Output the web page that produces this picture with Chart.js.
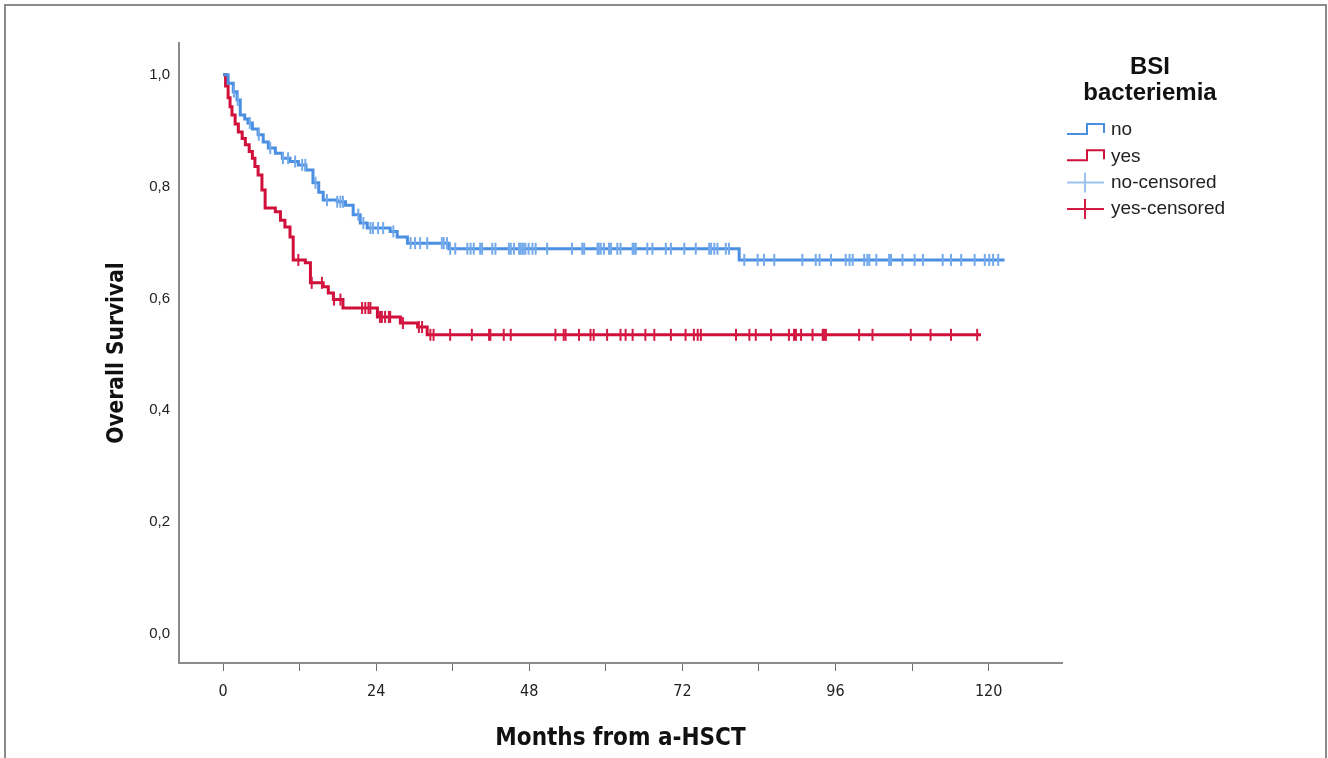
<!DOCTYPE html>
<html>
<head>
<meta charset="utf-8">
<title>Overall Survival by BSI bacteriemia</title>
<script src="https://cdn.jsdelivr.net/npm/chart.js@4"></script>
<style>
  html, body { margin: 0; padding: 0; background: #fff; }
  canvas { display: block; }
</style>
</head>
<body>
<canvas id="kmChart" width="1328" height="758"></canvas>
<script>
// Kaplan-Meier curves: event times (months) and survival after each step
const noTimes = [0, 0.8, 1.6, 2.2, 2.7, 3.4, 3.9, 4.6, 5.5, 6.3, 7.1, 8.2, 9.3, 10.5, 11.8, 13.0, 14.1, 15.0, 15.7, 17.9, 19.2, 20.4, 21.5, 22.6, 26.2, 27.3, 28.9, 35.4, 80.9, 122.5];
const noSurv  = [1.0, 0.985, 0.970, 0.955, 0.928, 0.921, 0.914, 0.903, 0.893, 0.880, 0.869, 0.860, 0.851, 0.845, 0.839, 0.830, 0.807, 0.790, 0.776, 0.773, 0.767, 0.750, 0.735, 0.726, 0.720, 0.710, 0.699, 0.689, 0.669, 0.669];

const yesTimes = [0, 0.4, 0.8, 1.1, 1.4, 1.9, 2.4, 3.0, 3.5, 4.1, 4.6, 5.0, 5.5, 6.1, 6.6, 8.2, 9.0, 9.7, 10.5, 11.0, 12.9, 13.7, 15.7, 16.5, 17.3, 18.8, 24.2, 27.8, 30.5, 32.0, 118.8];
const yesSurv  = [1.0, 0.980, 0.959, 0.943, 0.928, 0.912, 0.898, 0.886, 0.875, 0.863, 0.851, 0.836, 0.821, 0.794, 0.762, 0.755, 0.740, 0.728, 0.710, 0.669, 0.664, 0.628, 0.621, 0.610, 0.598, 0.583, 0.567, 0.556, 0.549, 0.535, 0.535];

// censored observations (months)
const noCensored = [1.7, 2.3, 4.2, 5.6, 7.4, 9.4, 10.2, 11.3, 12.4, 12.9, 14.5, 16.3, 17.9, 18.4, 18.8, 21.2, 22.0, 23.1, 23.5, 24.3, 25.1, 26.7, 29.4, 30.1, 30.9, 32.0, 34.3, 34.6, 35.1, 35.6, 36.4, 38.3, 38.8, 39.3, 40.3, 40.6, 42.2, 42.7, 44.8, 45.1, 45.6, 46.4, 46.6, 46.9, 47.1, 47.4, 47.9, 48.5, 49.0, 50.8, 54.7, 56.3, 56.6, 58.7, 58.9, 59.2, 59.7, 60.5, 60.8, 61.8, 62.3, 64.2, 64.4, 64.7, 66.5, 67.3, 69.4, 70.2, 72.3, 74.1, 76.2, 76.5, 77.0, 77.5, 78.8, 79.3, 81.7, 83.8, 84.8, 86.4, 90.8, 92.9, 93.5, 95.3, 97.6, 98.2, 98.7, 100.5, 101.0, 101.3, 102.4, 104.4, 104.7, 106.5, 108.4, 109.7, 112.8, 114.1, 115.7, 117.8, 119.4, 120.1, 120.7, 121.5];
const yesCensored = [11.8, 13.9, 15.5, 17.4, 18.4, 21.8, 22.3, 22.8, 23.1, 24.6, 24.9, 25.4, 26.0, 26.2, 28.2, 30.7, 31.2, 32.5, 33.0, 35.6, 39.0, 41.7, 41.9, 44.0, 45.1, 52.1, 53.4, 53.7, 55.8, 57.6, 58.1, 60.2, 62.3, 63.1, 64.2, 66.2, 67.6, 70.2, 72.5, 73.8, 74.4, 74.9, 80.4, 82.5, 83.5, 85.9, 88.7, 89.5, 89.8, 90.6, 92.4, 94.0, 94.2, 94.5, 99.7, 101.8, 107.8, 110.9, 114.1, 118.2];

const groupLabels = ['no', 'yes', 'no-censored', 'yes-censored'];
const legendTitle = ['BSI', 'bacteriemia'];
const xTickStep = 12;
const xLabelStep = 24;
const yTickStep = 0.2;

const BLUE = '#4a8fe2';
const BLUE_MARK = '#74aaec';
const RED = '#d0103a';
const RED_MARK = '#d41a44';
const NARROW = '"Liberation Sans Narrow", "Arial Narrow", "DejaVu Sans Condensed", sans-serif';

// survival value of a step curve at time t
function survivalAt(times, surv, t) {
    let s = surv[0];
    for (let i = 0; i < times.length; i++) {
        if (times[i] <= t) s = surv[i];
    }
    return s;
}

function curvePoints(times, surv) {
    return times.map((t, i) => ({ x: t, y: surv[i] }));
}

function censorPoints(cens, times, surv) {
    return cens.map(t => ({ x: t, y: survivalAt(times, surv, t) }));
}

// outer frame + legend block on the right
const frameAndLegend = {
    id: 'frameAndLegend',
    afterDraw(chart) {
        const ctx = chart.ctx;
        ctx.save();
        ctx.strokeStyle = '#8a8a8a';
        ctx.lineWidth = 2;
        ctx.strokeRect(5, 5, 1321, 800);

        ctx.fillStyle = '#111';
        ctx.textAlign = 'center';
        ctx.textBaseline = 'alphabetic';
        ctx.font = 'bold 24px "Liberation Sans", Arial, sans-serif';
        ctx.fillText(legendTitle[0], 1150, 74);
        ctx.fillText(legendTitle[1], 1150, 100);

        ctx.textAlign = 'left';
        ctx.textBaseline = 'middle';
        ctx.font = '19px "Liberation Sans", Arial, sans-serif';
        chart.data.datasets.forEach((ds, i) => {
            const cy = 130 + i * 26.3;
            ctx.strokeStyle = ds.legendColor;
            ctx.lineWidth = 2;
            ctx.beginPath();
            if (ds.showLine === false) {
                ctx.moveTo(1067, cy);
                ctx.lineTo(1104, cy);
                ctx.moveTo(1085, cy - 10);
                ctx.lineTo(1085, cy + 10);
            } else {
                ctx.moveTo(1067, cy + 4);
                ctx.lineTo(1087, cy + 4);
                ctx.lineTo(1087, cy - 6);
                ctx.lineTo(1104, cy - 6);
                ctx.lineTo(1104, cy + 3);
            }
            ctx.stroke();
            ctx.fillStyle = '#222';
            ctx.fillText(ds.label, 1111, cy);
        });
        ctx.restore();
    }
};

const ctx = document.getElementById('kmChart').getContext('2d');

window.kmChartInstance = new Chart(ctx, {
    type: 'line',
    data: {
        datasets: [
            {
                label: groupLabels[0],
                data: curvePoints(noTimes, noSurv),
                stepped: 'before',
                borderColor: BLUE,
                legendColor: BLUE,
                borderWidth: 3,
                pointRadius: 0,
                fill: false,
                order: 2
            },
            {
                label: groupLabels[1],
                data: curvePoints(yesTimes, yesSurv),
                stepped: 'before',
                borderColor: RED,
                legendColor: RED,
                borderWidth: 3,
                pointRadius: 0,
                fill: false,
                order: 2
            },
            {
                label: groupLabels[2],
                data: censorPoints(noCensored, noTimes, noSurv),
                showLine: false,
                pointStyle: 'line',
                rotation: 90,
                pointRadius: 6,
                pointBorderWidth: 2,
                pointBorderColor: BLUE_MARK,
                borderColor: BLUE_MARK,
                legendColor: '#9cc3f0',
                order: 1
            },
            {
                label: groupLabels[3],
                data: censorPoints(yesCensored, yesTimes, yesSurv),
                showLine: false,
                pointStyle: 'line',
                rotation: 90,
                pointRadius: 6,
                pointBorderWidth: 2,
                pointBorderColor: RED_MARK,
                borderColor: RED_MARK,
                legendColor: RED_MARK,
                order: 1
            }
        ]
    },
    options: {
        responsive: false,
        animation: false,
        layout: {
            padding: { left: 0, top: 43, right: 266, bottom: 0 }
        },
        scales: {
            x: {
                type: 'linear',
                min: -6.9,
                max: 131.5,
                afterFit(scale) { scale.height = 95; },
                border: { display: true, color: '#8c8c8c', width: 2 },
                grid: {
                    drawOnChartArea: false,
                    drawTicks: true,
                    tickLength: 8,
                    color: '#6e6e6e',
                    lineWidth: 1
                },
                ticks: {
                    stepSize: xTickStep,
                    includeBounds: false,
                    autoSkip: false,
                    maxRotation: 0,
                    padding: 11,
                    color: '#222',
                    font: { family: NARROW, size: 16 },
                    callback: v => (v % xLabelStep === 0 ? String(v) : '')
                },
                title: {
                    display: true,
                    text: 'Months from a-HSCT',
                    color: '#111',
                    padding: { top: 0, bottom: 5 },
                    font: { family: NARROW, size: 24, weight: 'bold' }
                }
            },
            y: {
                type: 'linear',
                min: -0.052,
                max: 1.057,
                afterFit(scale) { scale.width = 179; },
                border: { display: true, color: '#8c8c8c', width: 2 },
                grid: { drawOnChartArea: false, drawTicks: false },
                ticks: {
                    stepSize: yTickStep,
                    includeBounds: false,
                    padding: 9,
                    color: '#222',
                    font: { family: '"Liberation Sans", Arial, sans-serif', size: 15 },
                    callback: v => v.toFixed(1).replace('.', ',')
                },
                title: {
                    display: true,
                    text: 'Overall Survival',
                    color: '#111',
                    padding: { top: 104, bottom: 0 },
                    font: { family: NARROW, size: 22.5, weight: 'bold' }
                }
            }
        },
        plugins: {
            legend: { display: false },
            tooltip: { enabled: false }
        }
    },
    plugins: [frameAndLegend]
});
</script>
</body>
</html>
